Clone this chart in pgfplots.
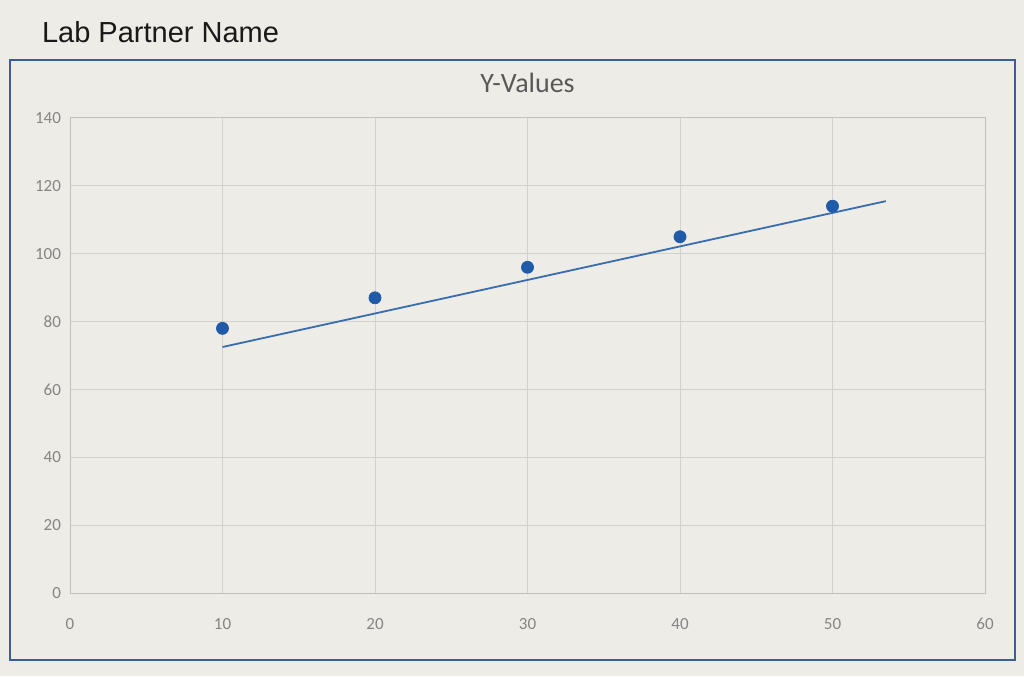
\documentclass[border=0pt]{standalone}
\usepackage{pgfplots}
\pgfplotsset{compat=1.18}
\usepackage{fontspec}
\setmainfont{Carlito}
\newfontfamily\arialfont{Liberation Sans}
\definecolor{bg}{HTML}{EDECE7}
\definecolor{ptblue}{HTML}{1F5BA8}
\definecolor{lnblue}{HTML}{3A6CB0}
\definecolor{frame}{HTML}{3B5E9A}
\definecolor{tickgray}{HTML}{858585}
\begin{document}
\begin{tikzpicture}[x=1pt,y=1pt]
\fill[bg] (0,0) rectangle (512,338);
\draw[frame, line width=0.8pt] (5,8) rectangle (507.5,308);
\node[anchor=west, font=\arialfont\fontsize{14.5}{16}\selectfont, text=black!90] at (17.5,322) {Lab Partner Name};
\begin{axis}[
  at={(35pt,41.5pt)}, anchor=south west,
  scale only axis, width=457.5pt, height=237.5pt,
  xmin=0, xmax=60, ymin=0, ymax=140,
  xtick={0,10,...,60}, ytick={0,20,...,140},
  grid=major,
  major grid style={draw=black!18, line width=0.5pt},
  axis line style={draw=black!25, line width=0.5pt},
  tick style={draw=none},
  ticklabel style={font=\fontsize{8.5}{10}\selectfont, text=tickgray},
  xticklabel style={yshift=-9pt},
  yticklabel style={xshift=-1pt},
  /pgf/number format/assume math mode=true,
  title={Y-Values},
  title style={font=\fontsize{14}{16}\selectfont, text=black!65, yshift=3pt},
]
\addplot[only marks, mark=*, mark size=3pt, ptblue] coordinates {
  (10,78) (20,87) (30,96) (40,105) (50,114)
};
\addplot[lnblue, line width=0.9pt] coordinates {
  (10,72.5) (53.5,115.5)
};
\end{axis}
\end{tikzpicture}
\end{document}
